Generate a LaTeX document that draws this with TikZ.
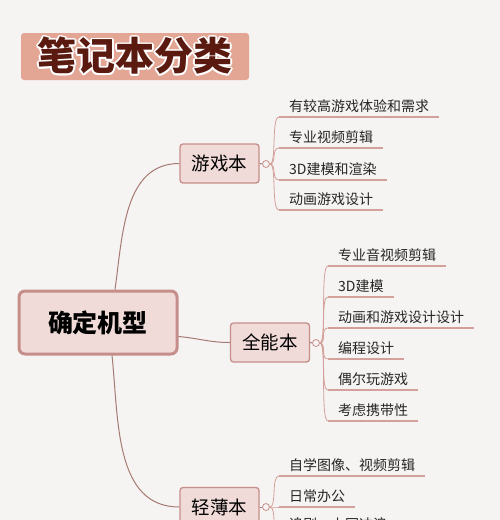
\documentclass[tikz,border=0pt]{standalone}
\usepackage{fontspec}
\setmainfont{Noto Sans CJK SC}
\usepackage{contour}
\contourlength{1.6pt}
\definecolor{paper}{HTML}{F6F4F2}
\definecolor{titlefill}{HTML}{E3A695}
\definecolor{titleink}{HTML}{5A1A10}
\definecolor{boxfill}{HTML}{F0DBD8}
\definecolor{boxline}{HTML}{C68E8A}
\definecolor{branch}{HTML}{A67A73}
\definecolor{twigline}{HTML}{D3A09B}
\tikzset{
        titlebox/.style={fill=titlefill,rounded corners=3pt,minimum width=228,minimum height=47,inner sep=0pt},
        rootbox/.style={draw=boxline,line width=3pt,fill=boxfill,rounded corners=6pt,minimum width=158,minimum height=63,inner sep=0pt,font=\fontsize{25}{28}\selectfont\bfseries},
        kindbox/.style={draw=boxline,line width=1.3pt,fill=boxfill,rounded corners=3pt,minimum width=79,minimum height=39,inner sep=0pt,font=\fontsize{18.5}{20}\selectfont},
        knob/.style={circle,draw=boxline,fill=paper,line width=0.8pt,minimum size=7,inner sep=0pt},
        item/.style={anchor=south west,inner xsep=10pt,inner ysep=4pt,text depth=0.15em,text=black!85,font=\fontsize{14}{16}\selectfont},
        uline/.style={draw=twigline,line width=1.8pt},
        twig/.style={draw=twigline,line width=0.8pt},
        branchline/.style={draw=branch,line width=1pt}
}
\begin{document}
\begin{tikzpicture}[x=1pt,y=-1pt]
        \useasboundingbox[fill=paper](0,0)rectangle(500,520);
        \clip(0,0)rectangle(500,520);
        \node[titlebox] (title) at (135,56.5){\fontsize{39}{42}\selectfont\bfseries\color{titleink}\contour{white}{笔记本分类}};
        \node[rootbox] (root) at (98,322.5){确定机型};
        \node[kindbox] (game) at (219.5,163.5){游戏本};
        \node[kindbox] (allround) at (270,342.5){全能本};
        \node[kindbox] (light) at (219.5,507){轻薄本};
        \node[knob] (kg) at (266,164){};
        \node[knob] (ka) at (316,343){};
        \node[knob] (kl) at (266,507){};
        \draw[branchline]([xshift=17pt]root.north)to[out=82,in=180](game.west);
        \draw[branchline]([yshift=-14pt]root.east)to[out=-5,in=180](allround.west);
        \draw[branchline]([xshift=14pt]root.south)to[out=-84,in=180](light.west);
        \draw[branchline](game.east)--(kg.west);
        \draw[branchline](allround.east)--(ka.west);
        \draw[branchline](light.east)--(kl.west);
        % 游戏本
        \node[item] (g1) at (279,117){有较高游戏体验和需求};
        \node[item] (g2) at (279,148){专业视频剪辑};
        \node[item] (g3) at (279,180){3D建模和渲染};
        \node[item] (g4) at (279,210){动画游戏设计};
        \draw[uline](g1.south west)--(g1.south east);
        \draw[uline](g2.south west)--(g2.south east);
        \draw[uline](g3.south west)--(g3.south east);
        \draw[uline](g4.south west)--(g4.south east);
        \draw[twig](kg.east)..controls +(7,0) and +(-8,0)..(g1.south west);
        \draw[twig](kg.east)..controls +(7,0) and +(-8,0)..(g2.south west);
        \draw[twig](kg.east)..controls +(7,0) and +(-8,0)..(g3.south west);
        \draw[twig](kg.east)..controls +(7,0) and +(-8,0)..(g4.south west);
        % 全能本
        \node[item] (a1) at (328,266){专业音视频剪辑};
        \node[item] (a2) at (328,297){3D建模};
        \node[item] (a3) at (328,328){动画和游戏设计设计};
        \node[item] (a4) at (328,359){编程设计};
        \node[item] (a5) at (328,390){偶尔玩游戏};
        \node[item] (a6) at (328,421){考虑携带性};
        \draw[uline](a1.south west)--(a1.south east);
        \draw[uline](a2.south west)--(a2.south east);
        \draw[uline](a3.south west)--(a3.south east);
        \draw[uline](a4.south west)--(a4.south east);
        \draw[uline](a5.south west)--(a5.south east);
        \draw[uline](a6.south west)--(a6.south east);
        \draw[twig](ka.east)..controls +(7,0) and +(-8,0)..(a1.south west);
        \draw[twig](ka.east)..controls +(7,0) and +(-8,0)..(a2.south west);
        \draw[twig](ka.east)..controls +(7,0) and +(-8,0)..(a3.south west);
        \draw[twig](ka.east)..controls +(7,0) and +(-8,0)..(a4.south west);
        \draw[twig](ka.east)..controls +(7,0) and +(-8,0)..(a5.south west);
        \draw[twig](ka.east)..controls +(7,0) and +(-8,0)..(a6.south west);
        % 轻薄本
        \node[item] (l1) at (279,476){自学图像、视频剪辑};
        \node[item] (l2) at (279,507){日常办公};
        \node[item] (l3) at (279,535){追剧、上网冲浪};
        \draw[uline](l1.south west)--(l1.south east);
        \draw[uline](l2.south west)--(l2.south east);
        \draw[uline](l3.south west)--(l3.south east);
        \draw[twig](kl.east)..controls +(7,0) and +(-8,0)..(l1.south west);
        \draw[twig](kl.east)..controls +(7,0) and +(-8,0)..(l2.south west);
        \draw[twig](kl.east)..controls +(7,0) and +(-8,0)..(l3.south west);
\end{tikzpicture}
\end{document}
